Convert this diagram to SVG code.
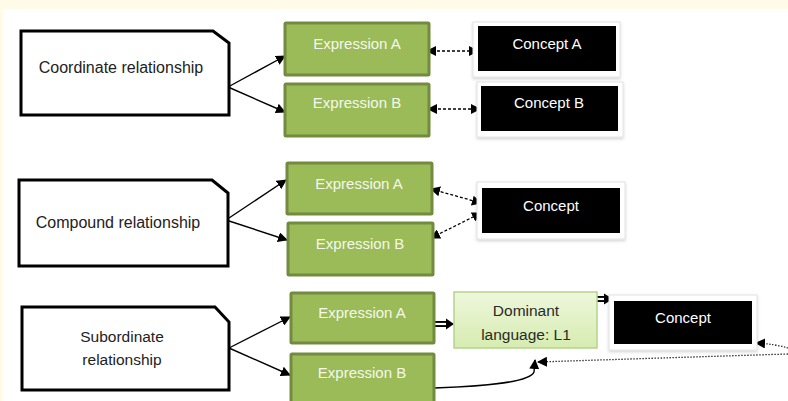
<svg xmlns="http://www.w3.org/2000/svg" width="788" height="401" viewBox="0 0 788 401">
<style>
.rel{fill:#fff;stroke:#000;stroke-width:3;stroke-linejoin:miter}
.rt{font-family:"Liberation Sans",Arial,sans-serif;font-size:16px;fill:#222;text-anchor:middle}
.exp{fill:#9bbb59;stroke:#728b3f;stroke-width:3}
.et{font-family:"Liberation Sans",Arial,sans-serif;font-size:15px;fill:#f4f8ec;text-anchor:middle}
.frame{fill:#fff;stroke:#e2e2e2;stroke-width:1;filter:url(#sh)}
.blk{fill:#000}
.ct{font-family:"Liberation Sans",Arial,sans-serif;font-size:15px;fill:#fff;text-anchor:middle}
.dom{fill:url(#lg);stroke:#b4d38a;stroke-width:1.5}
.dt{font-family:"Liberation Sans",Arial,sans-serif;font-size:15.5px;fill:#2a2a2a;text-anchor:middle}
.ln{fill:none;stroke:#000;stroke-width:1.4}
.dash{fill:none;stroke:#000;stroke-width:1.3;stroke-dasharray:3 2}
.dot{fill:none;stroke:#333;stroke-width:1.3;stroke-dasharray:1.5 1.5}
</style>
<defs>
<marker id="ah" viewBox="0 0 10 10" refX="9" refY="5" markerWidth="10" markerHeight="10" markerUnits="userSpaceOnUse" orient="auto-start-reverse"><path d="M0,0 L10,5 L0,10 z" fill="#000"/></marker>
<marker id="ah2" viewBox="0 0 10 10" refX="9" refY="5" markerWidth="10" markerHeight="10" markerUnits="userSpaceOnUse" orient="auto-start-reverse"><path d="M0,0 L10,5 L0,10 z" fill="#000"/></marker>
<linearGradient id="lg" x1="0" y1="0" x2="0" y2="1"><stop offset="0" stop-color="#eef7dc"/><stop offset="1" stop-color="#d6ecb0"/></linearGradient>
<filter id="sh" x="-10%" y="-20%" width="120%" height="150%"><feDropShadow dx="0" dy="1.5" stdDeviation="1.5" flood-color="#000" flood-opacity="0.18"/></filter>
</defs>
<rect x="0" y="0" width="788" height="401" fill="#fff"/>
<rect x="0" y="0" width="788" height="9" fill="#fffbe8"/>
<rect x="0" y="0" width="3" height="401" fill="#fffbe8"/>

<g id="connectors">
<line class="ln" x1="228" y1="87" x2="285" y2="56" marker-end="url(#ah)"/>
<line class="ln" x1="228" y1="87" x2="285" y2="112" marker-end="url(#ah)"/>
<line class="dash" x1="427" y1="51" x2="478" y2="51" marker-start="url(#ah)" marker-end="url(#ah)"/>
<line class="dash" x1="428" y1="109" x2="480" y2="109" marker-start="url(#ah)" marker-end="url(#ah)"/>
<line class="ln" x1="226" y1="220" x2="286" y2="180" marker-end="url(#ah)"/>
<line class="ln" x1="226" y1="220" x2="287" y2="240" marker-end="url(#ah)"/>
<line class="dash" x1="431" y1="189" x2="481" y2="203" marker-start="url(#ah)" marker-end="url(#ah)"/>
<line class="dash" x1="431" y1="238" x2="481" y2="213" marker-start="url(#ah)" marker-end="url(#ah)"/>
<line class="ln" x1="229" y1="348" x2="290" y2="317" marker-end="url(#ah)"/>
<line class="ln" x1="229" y1="348" x2="290" y2="375" marker-end="url(#ah)"/>
<g id="dbl1"><line x1="434" y1="324" x2="447" y2="324" stroke="#000" stroke-width="6"/><line x1="434" y1="324" x2="446" y2="324" stroke="#fff" stroke-width="2.2"/><path d="M446,318.5 L454,324 L446,329.5 z" fill="#000"/></g>
<g id="dbl2"><line x1="591" y1="299" x2="605" y2="299" stroke="#000" stroke-width="6"/><line x1="592" y1="299" x2="604" y2="299" stroke="#fff" stroke-width="2.2"/><path d="M604,293.5 L613,299 L604,304.5 z" fill="#000"/></g>
<path class="ln" d="M434,388 C490,386 530,382 534,372 L535,360" marker-end="url(#ah)"/>
<path class="dot" d="M788,354 Q660,358 538,362" marker-end="url(#ah2)"/>
<path class="dot" d="M788,348 Q775,344 756,343" marker-end="url(#ah2)"/>
</g>

<g id="coordinate">
<path class="rel" d="M21,31 H213 L229,43 V115 H21 Z"/>
<text class="rt" x="121" y="73">Coordinate relationship</text>
</g>
<g id="coord-exp-a"><rect class="exp" x="285" y="23" width="144" height="52" rx="1"/><text class="et" x="357" y="49">Expression A</text></g>
<g id="coord-exp-b"><rect class="exp" x="285" y="84" width="144" height="52" rx="1"/><text class="et" x="357" y="108">Expression B</text></g>
<g id="concept-a"><rect class="frame" x="473" y="22" width="147" height="55"/><rect class="blk" x="478" y="26" width="138" height="45"/><text class="ct" x="547" y="49">Concept A</text></g>
<g id="concept-b"><rect class="frame" x="477" y="82" width="146" height="55"/><rect class="blk" x="481" y="86" width="137" height="45"/><text class="ct" x="549" y="108">Concept B</text></g>

<g id="compound">
<path class="rel" d="M19,180 H212 L228,193 V266 H19 Z"/>
<text class="rt" x="118" y="228">Compound relationship</text>
</g>
<g id="comp-exp-a"><rect class="exp" x="287" y="163" width="145" height="51" rx="1"/><text class="et" x="359" y="189">Expression A</text></g>
<g id="comp-exp-b"><rect class="exp" x="288" y="223" width="145" height="52" rx="1"/><text class="et" x="360" y="249">Expression B</text></g>
<g id="comp-concept"><rect class="frame" x="477" y="182" width="148" height="57"/><rect class="blk" x="482" y="188" width="138" height="45"/><text class="ct" x="551" y="211">Concept</text></g>

<g id="subordinate">
<path class="rel" d="M22,307 H215 L229,322 V390 H22 Z"/>
<text class="rt" x="122" y="342" style="font-size:15.5px">Subordinate</text>
<text class="rt" x="122" y="365" style="font-size:15.5px">relationship</text>
</g>
<g id="sub-exp-a"><rect class="exp" x="291" y="293" width="143" height="50" rx="1"/><text class="et" x="362" y="318">Expression A</text></g>
<g id="sub-exp-b"><rect class="exp" x="291" y="354" width="143" height="52" rx="1"/><text class="et" x="362" y="378">Expression B</text></g>
<g id="dominant"><rect class="dom" x="454" y="292" width="143" height="56"/><text class="dt" x="526" y="316">Dominant</text><text class="dt" x="526" y="340">language: L1</text></g>
<g id="sub-concept"><rect class="frame" x="609" y="295" width="148" height="55"/><rect class="blk" x="614" y="301" width="138" height="43"/><text class="ct" x="683" y="323">Concept</text></g>
</svg>
